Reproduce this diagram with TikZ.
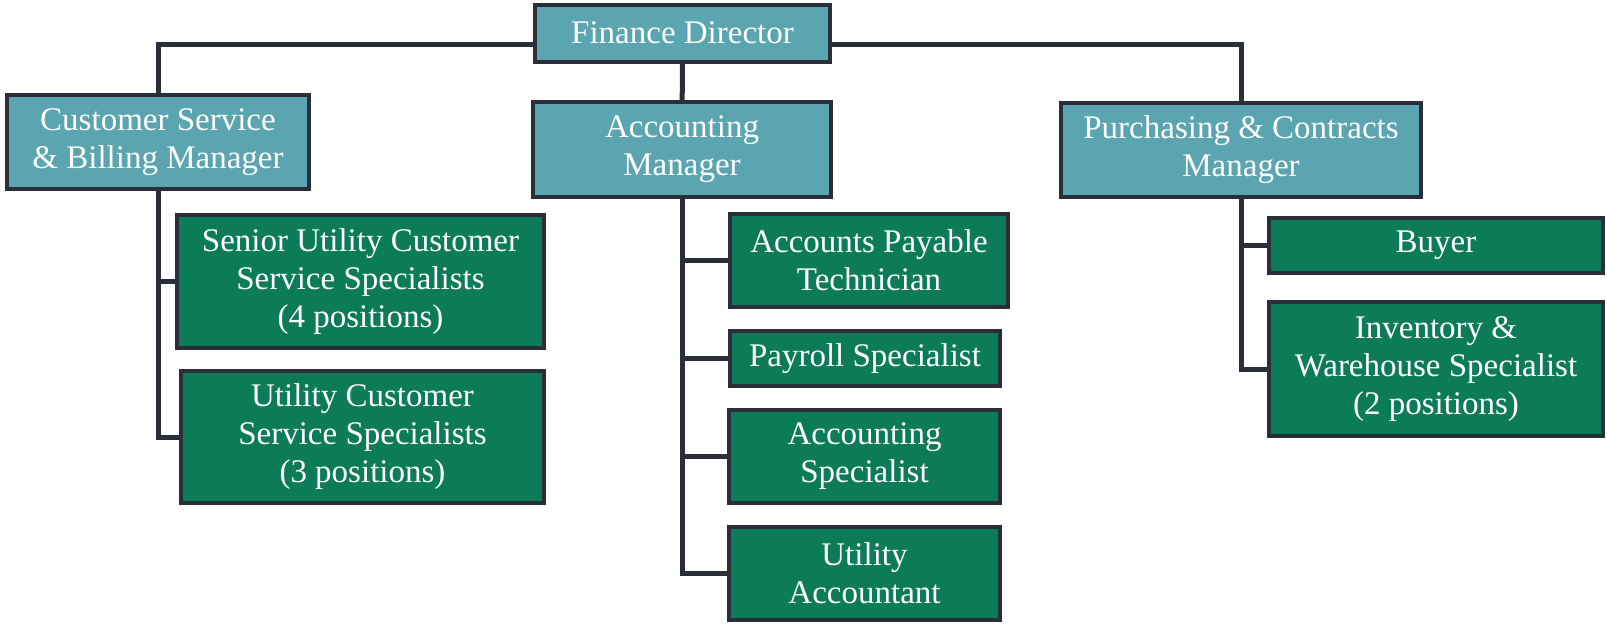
\documentclass[tikz,border=0pt]{standalone}
\usepackage{fontspec}
\setmainfont{Liberation Serif}
\usepackage{tikz}
\usetikzlibrary{positioning}

\definecolor{mgrfill}{HTML}{5BA5B0}
\definecolor{stafffill}{HTML}{0B7B58}
\definecolor{linecol}{HTML}{2A2E38}

\begin{document}
\begin{tikzpicture}[x=0.5pt,y=-0.5pt,
  font=\fontsize{16.5}{19}\selectfont]
  \tikzstyle{box}=[draw=linecol,line width=2pt,text=white,align=center,inner sep=0pt]
  \tikzstyle{mgr}=[box,fill=mgrfill]
  \tikzstyle{staff}=[box,fill=stafffill]
  \tikzstyle{conn}=[draw=linecol,line width=2.5pt]

  \useasboundingbox (0,0) rectangle (1607,623);

  \node[mgr,minimum width=147.5pt,minimum height=28.5pt] (FD)  at (682.5,33)  {Finance Director};
  \node[mgr,minimum width=151pt,minimum height=47pt]     (CSB) at (158,142)   {Customer Service\\\& Billing Manager};
  \node[mgr,minimum width=149pt,minimum height=47.5pt]   (AM)  at (682,149.5) {Accounting\\Manager};
  \node[mgr,minimum width=180pt,minimum height=47pt]     (PCM) at (1241,149.5) {Purchasing \& Contracts\\Manager};

  \node[staff,minimum width=183.5pt,minimum height=66.5pt] (SUC) at (360.5,281.5) {Senior Utility Customer\\Service Specialists\\(4 positions)};
  \node[staff,minimum width=181.5pt,minimum height=66pt]   (UCS) at (362.5,437)   {Utility Customer\\Service Specialists\\(3 positions)};

  \node[staff,minimum width=139pt,minimum height=46.5pt]   (APT) at (869,260.5)   {Accounts Payable\\Technician};
  \node[staff,minimum width=135pt,minimum height=27.5pt]   (PS)  at (865,358.5)   {Payroll Specialist};
  \node[staff,minimum width=135.5pt,minimum height=46.5pt] (AS)  at (864.5,456.5) {Accounting\\Specialist};
  \node[staff,minimum width=135.5pt,minimum height=46.5pt] (UA)  at (864.5,573.5) {Utility\\Accountant};

  \node[staff,minimum width=167pt,minimum height=27.5pt]   (BUY) at (1436,245.5)  {Buyer};
  \node[staff,minimum width=167pt,minimum height=67pt]     (IWS) at (1436,369)    {Inventory \&\\Warehouse Specialist\\(2 positions)};

  \draw[conn] ([yshift=-5.5pt]FD.west) -| (CSB.north);
  \draw[conn] ([yshift=-5.5pt]FD.east) -| (PCM.north);
  \draw[conn] (FD) -- (AM);

  \draw[conn] (CSB.south) |- (SUC.west);
  \draw[conn] (CSB.south) |- (UCS.west);

  \draw[conn] (AM.south) |- (APT.west);
  \draw[conn] (AM.south) |- (PS.west);
  \draw[conn] (AM.south) |- (AS.west);
  \draw[conn] (AM.south) |- (UA.west);

  \draw[conn] (PCM.south) |- (BUY.west);
  \draw[conn] (PCM.south) |- (IWS.west);
\end{tikzpicture}
\end{document}
